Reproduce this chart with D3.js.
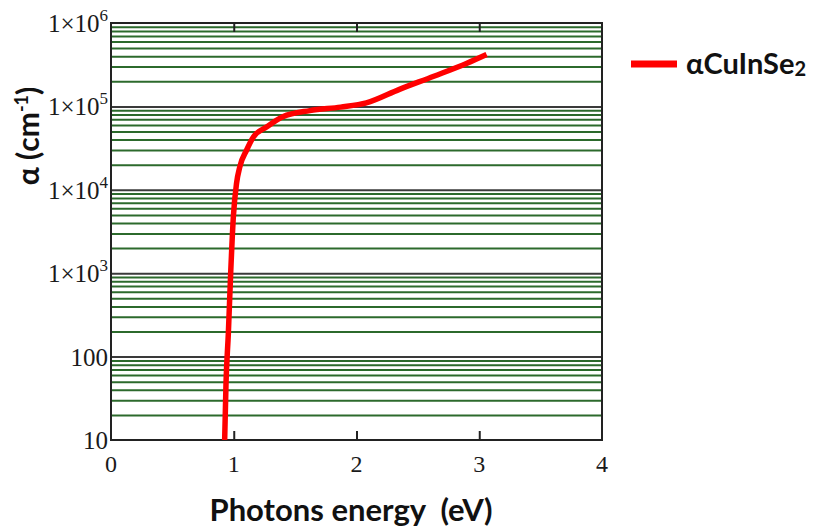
<!DOCTYPE html>
<html>
<head>
<meta charset="utf-8">
<script src="https://cdn.jsdelivr.net/npm/d3@7/dist/d3.min.js"></script>
<style>
  html, body { margin: 0; padding: 0; background: #ffffff; }
  svg { display: block; }
  text { white-space: pre; }
</style>
</head>
<body>
<svg id="chart" width="813" height="530"></svg>
<script>
// ---- data ----
const energy = [0.926, 0.937, 0.956, 0.975, 0.997, 1.023, 1.05, 1.105, 1.16, 1.27, 1.40, 1.62, 1.87, 2.08, 2.35, 2.63, 2.90, 3.06];
const alpha  = [10, 48, 190, 1000, 4800, 12000, 19000, 30000, 43000, 57000, 75000, 89000, 98000, 110000, 160000, 230000, 330000, 420000];
const seriesName = "αCuInSe";
const seriesSub = "2";
const xTicks = [0, 1, 2, 3, 4];
const yTickValues = [10, 100, 1e3, 1e4, 1e5, 1e6];
const yTickBase = ["10", "100", "1×10", "1×10", "1×10", "1×10"];
const yTickExp  = ["", "", "3", "4", "5", "6"];
const xTitle = "Photons energy  (eV)";
const yTitle = "α (cm";
const yTitleExp = "-1";

// ---- layout ----
const svg = d3.select("#chart");
const L = 111, R = 602, T = 23, B = 440;
const x = d3.scaleLinear().domain([0, 4]).range([L, R]);
const y = d3.scaleLog().domain([10, 1e6]).range([B, T]);

// gridlines
const allTicks = y.ticks();
const isDecade = v => Math.abs(Math.log10(v) - Math.round(Math.log10(v))) < 1e-9;
const grid = svg.append("g").attr("transform", `translate(${L},0)`)
  .call(d3.axisLeft(y).tickValues(allTicks.filter(v => v > 10 && v < 1e6)).tickSize(-(R - L)).tickFormat(""));
grid.select(".domain").remove();
grid.selectAll(".tick line")
  .attr("stroke", d => isDecade(d) ? "#3a3a3a" : "#2c6a2c")
  .attr("stroke-width", 2);

// frame
svg.append("rect").attr("x", L).attr("y", T).attr("width", R - L).attr("height", B - T)
  .attr("fill", "none").attr("stroke", "#222").attr("stroke-width", 2);

// x ticks (inward, bottom and top)
const xb = svg.append("g").attr("transform", `translate(0,${B})`)
  .call(d3.axisBottom(x).tickValues(xTicks.filter(v => v > 0 && v < 4)).tickSize(-9).tickFormat(""));
xb.select(".domain").remove();
xb.selectAll(".tick line").attr("stroke", "#222").attr("stroke-width", 2);
const xt = svg.append("g").attr("transform", `translate(0,${T})`)
  .call(d3.axisTop(x).tickValues(xTicks.filter(v => v > 0 && v < 4)).tickSize(-9).tickFormat(""));
xt.select(".domain").remove();
xt.selectAll(".tick line").attr("stroke", "#222").attr("stroke-width", 2);

// x tick labels
svg.append("g").selectAll("text").data(xTicks).join("text")
  .attr("x", d => x(d)).attr("y", B + 32)
  .attr("text-anchor", "middle")
  .attr("font-family", "Liberation Serif, serif").attr("font-size", 24).attr("fill", "#1a1a1a")
  .text(d => d);

// y tick labels
const yl = svg.append("g").selectAll("text").data(yTickValues).join("text")
  .attr("x", L - 3).attr("y", d => y(d) + 9)
  .attr("text-anchor", "end")
  .attr("font-family", "Liberation Serif, serif").attr("font-size", 25).attr("fill", "#1a1a1a");
yl.append("tspan").text((d, i) => yTickBase[i]);
yl.append("tspan").attr("dy", -11).attr("font-size", 17).text((d, i) => yTickExp[i]);

// curve
const line = d3.line().x((d, i) => x(energy[i])).y((d, i) => y(alpha[i])).curve(d3.curveMonotoneX);
svg.append("path").datum(alpha).attr("d", line)
  .attr("fill", "none").attr("stroke", "#ff0000").attr("stroke-width", 5.5).attr("stroke-linejoin", "round");

// axis titles
svg.append("text").attr("x", 351).attr("y", 521).attr("text-anchor", "middle")
  .attr("font-family", "Lato, sans-serif").attr("font-weight", "bold").attr("font-size", 31).attr("fill", "#111")
  .text(xTitle);
const yt = svg.append("text").attr("transform", "translate(39,136) rotate(-90)").attr("text-anchor", "middle")
  .attr("font-family", "Lato, sans-serif").attr("font-weight", "bold").attr("font-size", 30).attr("fill", "#111");
yt.append("tspan").text(yTitle);
yt.append("tspan").attr("dy", -11).attr("font-size", 18).text(yTitleExp);
yt.append("tspan").attr("dy", 11).text(")");

// legend
svg.append("line").attr("x1", 631).attr("x2", 677).attr("y1", 64).attr("y2", 64)
  .attr("stroke", "#ff0000").attr("stroke-width", 7);
const lg = svg.append("text").attr("x", 686).attr("y", 74)
  .attr("font-family", "Lato, sans-serif").attr("font-weight", "bold").attr("font-size", 29).attr("fill", "#111");
lg.append("tspan").text(seriesName);
lg.append("tspan").attr("font-size", 20).attr("dy", 2).text(seriesSub);
</script>
</body>
</html>
